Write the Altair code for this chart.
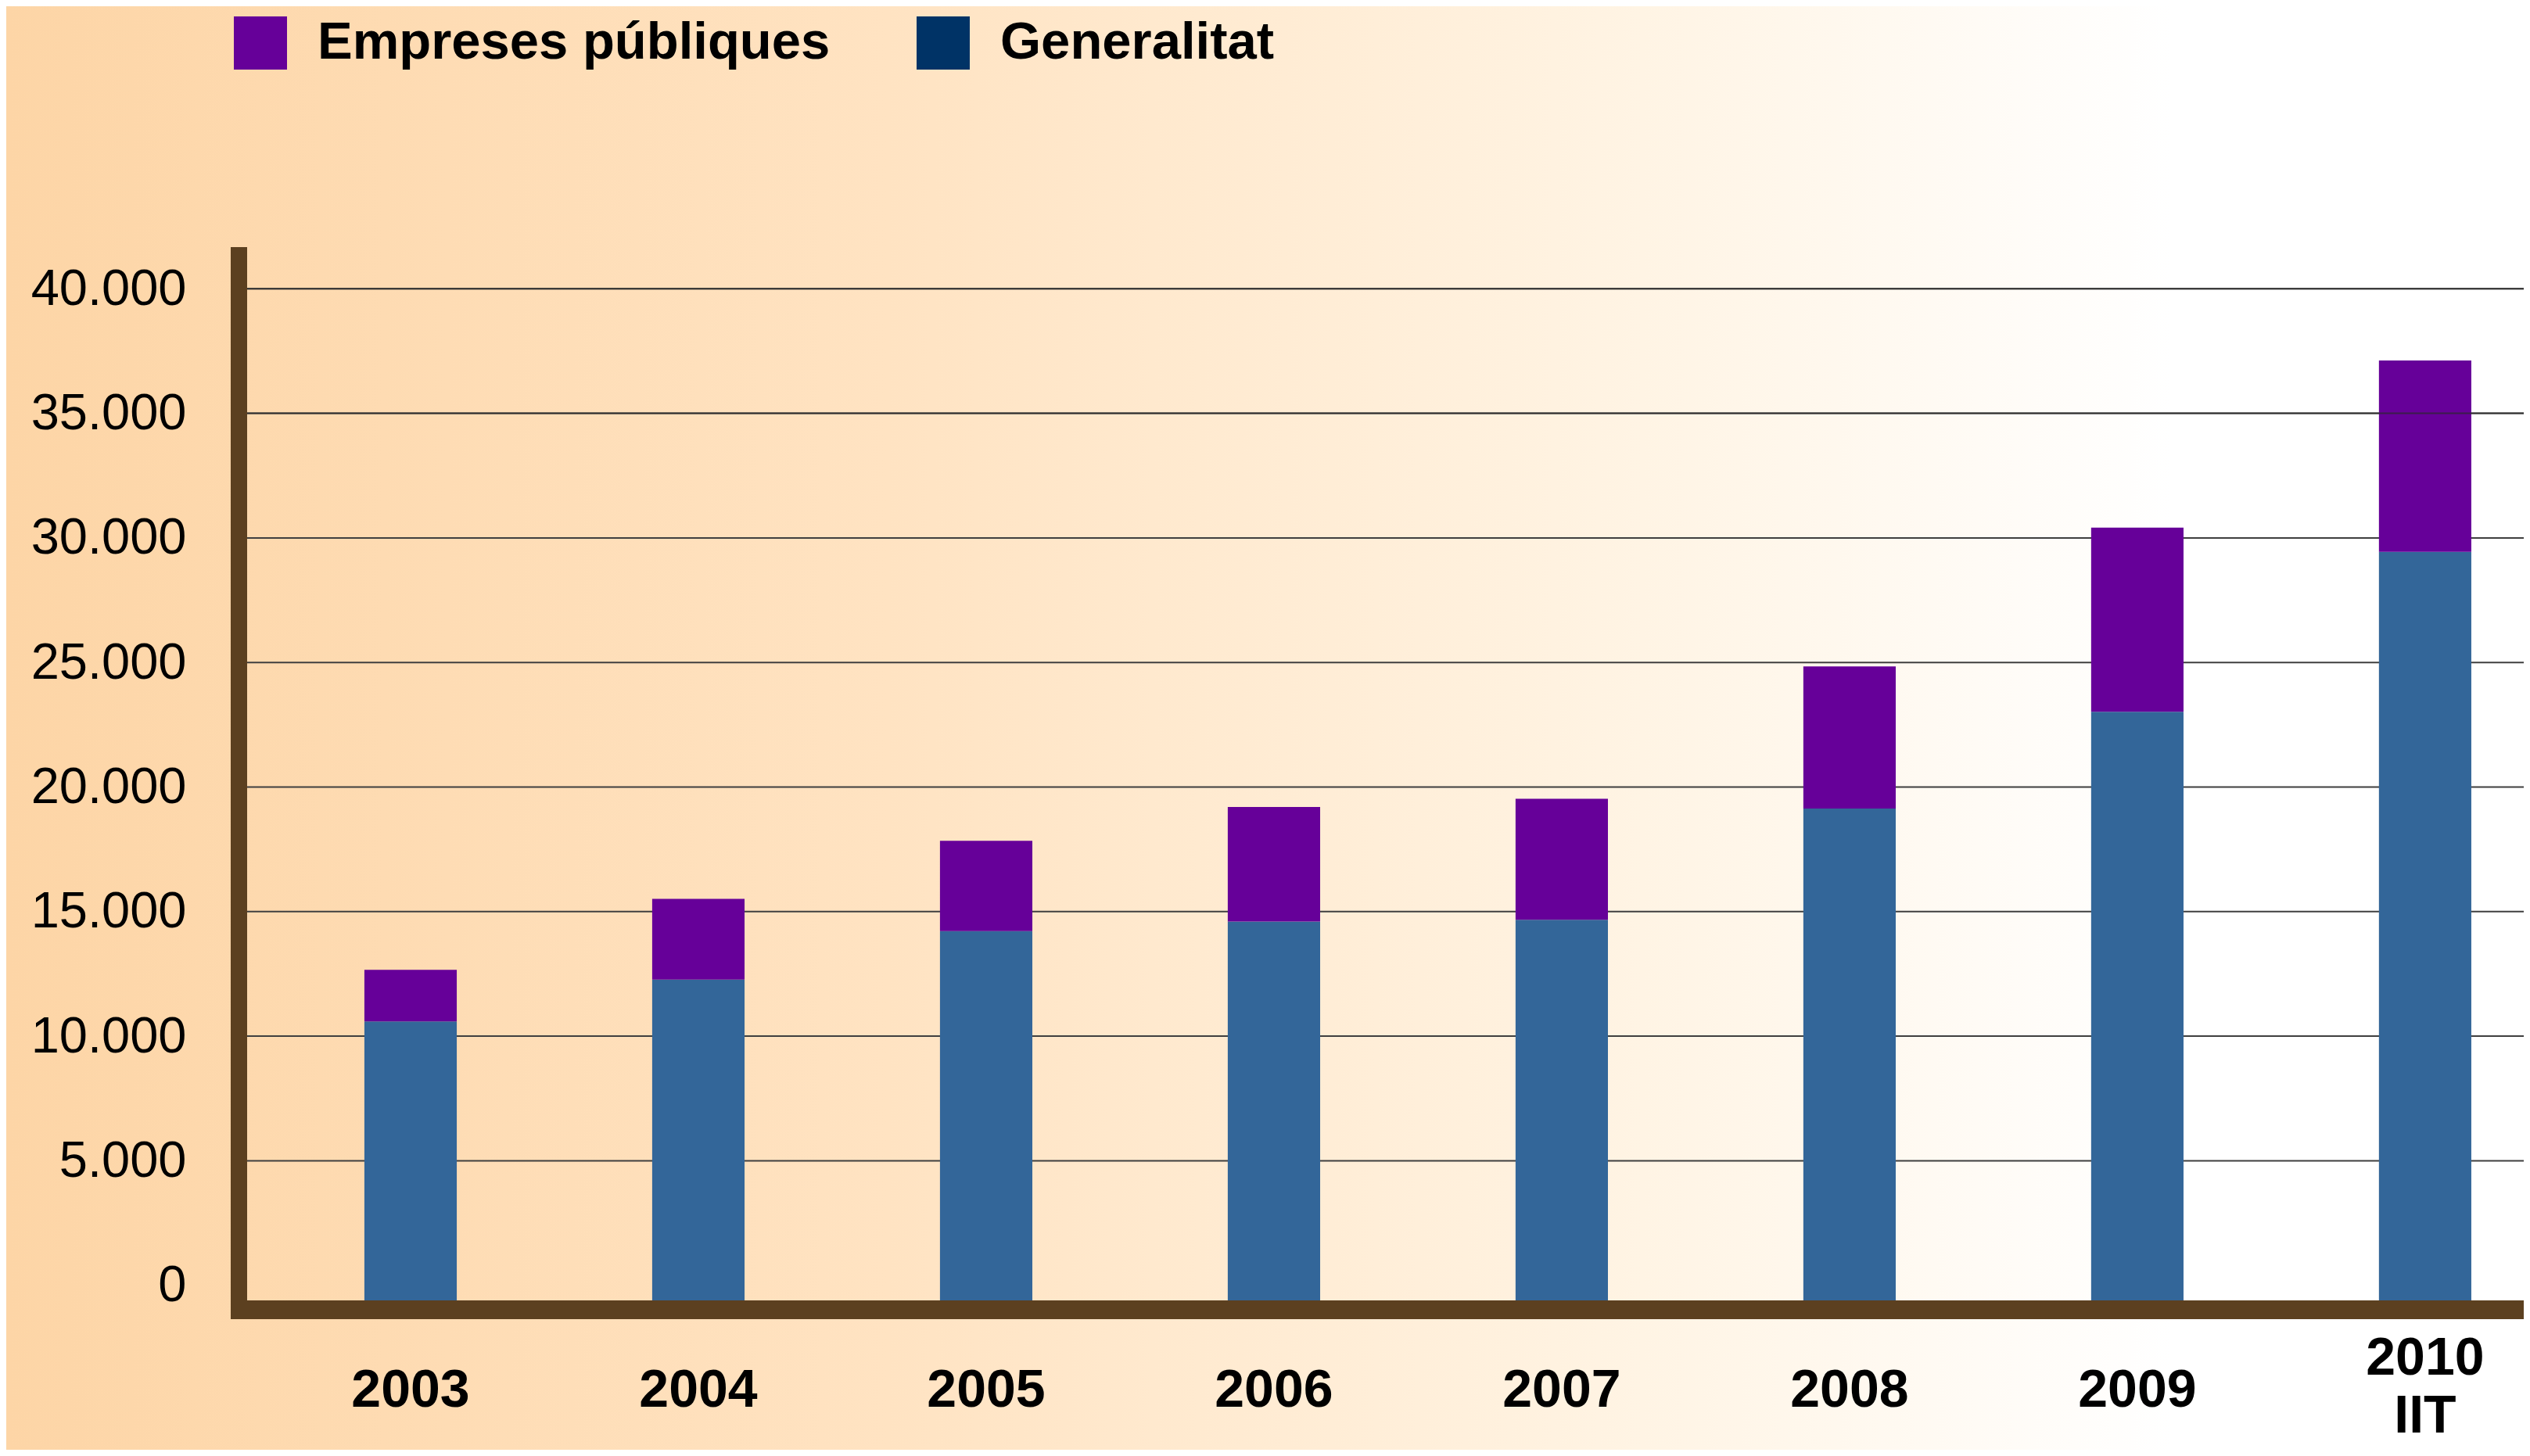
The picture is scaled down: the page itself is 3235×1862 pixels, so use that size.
import altair as alt
import pandas as pd

# ---- data ----
years = ["2003", "2004", "2005", "2006", "2007", "2008", "2009", "2010\nIIT"]
generalitat = [10590, 12270, 14220, 14600, 14670, 19140, 23020, 29440]
empreses = [2070, 3240, 3620, 4600, 4860, 5700, 7390, 7680]
series = ["Empreses públiques", "Generalitat"]
bar_colors = ["#660099", "#336699"]
legend_colors = ["#660099", "#003366"]
tick_values = [0, 5000, 10000, 15000, 20000, 25000, 30000, 35000, 40000]
grid_values = tick_values[1:]

Y_MIN, Y_MAX = -606, 41673
BROWN = "#5c4020"
W, H = 2911, 1347
PAD_L, PAD_T, PAD_B = 308, 308, 191

df = pd.DataFrame({"year": years, "generalitat": generalitat, "empreses": empreses})
grid_df = pd.DataFrame({"v": grid_values})
legend_df = pd.DataFrame({"series": series})
one = alt.Data(values=[{"k": 1}])

yscale = alt.Scale(domain=[Y_MIN, Y_MAX], nice=False, zero=False)
y_axis = alt.Axis(
    title=None, values=tick_values, grid=False, domain=False, ticks=False,
    labelExpr="replace(format(datum.value, ','), ',', '.')",
    labelFont="Liberation Sans", labelFontSize=65, labelColor="#000000",
    labelPadding=78, labelBaseline="middle", labelLimit=500, zindex=2,
)
xscale = alt.Scale(domain=years, paddingInner=0.679, paddingOuter=0.2948, align=0.691)
x_axis = alt.Axis(
    title=None, domain=False, ticks=False, labelAngle=0,
    labelExpr="split(datum.label, '\\n')",
    labelFont="Liberation Sans", labelFontWeight="bold", labelFontSize=68,
    labelColor="#000000", labelLineHeight=74, labelBaseline="top", zindex=2,
    labelLimit=500,
    labelPadding={"condition": {"test": "indexof(datum.value, 'IIT') >= 0", "value": 40}, "value": 81},
)

background = alt.Chart(one).mark_rect(
    fill=alt.Gradient(
        gradient="linear",
        stops=[
            alt.GradientStop(offset=0, color="#fdd5a6"),
            alt.GradientStop(offset=0.35, color="#ffe3c2"),
            alt.GradientStop(offset=0.65, color="#fff4e4"),
            alt.GradientStop(offset=0.86, color="#ffffff"),
            alt.GradientStop(offset=1, color="#ffffff"),
        ],
        x1=0, x2=1, y1=0, y2=0,
    )
).encode(x=alt.value(-PAD_L), x2=alt.value(W), y=alt.value(-PAD_T), y2=alt.value(H + PAD_B))

grid = alt.Chart(grid_df).mark_rule(color="#3f3f3f", strokeWidth=2).encode(
    y=alt.Y("v:Q", scale=yscale, axis=y_axis), x=alt.value(0), x2=alt.value(W)
)
grid_top = alt.Chart(grid_df).transform_filter("datum.v >= 35000").mark_rule(
    color="#2a2a2a", strokeWidth=2, opacity=0.7
).encode(y=alt.Y("v:Q", scale=yscale, axis=y_axis), x=alt.value(0), x2=alt.value(W))

blue = alt.Chart(df).transform_calculate(
    base=str(Y_MIN)
).mark_bar(color=bar_colors[1]).encode(
    x=alt.X("year:N", sort=years, scale=xscale, axis=x_axis),
    y=alt.Y("generalitat:Q", scale=yscale, axis=y_axis),
    y2="base:Q",
)
purple = alt.Chart(df).transform_calculate(
    total="datum.generalitat + datum.empreses"
).mark_bar(color=bar_colors[0]).encode(
    x=alt.X("year:N", sort=years, scale=xscale, axis=x_axis),
    y=alt.Y("total:Q", scale=yscale, axis=y_axis),
    y2="generalitat:Q",
)

vbar = alt.Chart(one).mark_rule(color=BROWN, strokeWidth=21).encode(
    x=alt.value(-10.5), y=alt.value(0), y2=alt.value(H + 24)
)
hbar = alt.Chart(one).mark_rule(color=BROWN, strokeWidth=24).encode(
    x=alt.value(-21), x2=alt.value(W), y=alt.value(H + 12)
)

legend_layer = alt.Chart(legend_df).mark_point(shape="square", filled=True, opacity=0).encode(
    color=alt.Color(
        "series:N",
        scale=alt.Scale(domain=series, range=legend_colors),
        legend=alt.Legend(
            title=None, orient="none", legendX=-17, legendY=-295, direction="horizontal",
            symbolType="square", symbolSize=4624, symbolOpacity=1, symbolStrokeWidth=0,
            labelFont="Liberation Sans", labelFontWeight="bold", labelFontSize=67,
            labelColor="#000000", labelOffset=39, columnPadding=110, padding=0,
            labelLimit=1000,
        ),
    )
)

chart = alt.layer(
    background, grid, blue, purple, grid_top, vbar, hbar, legend_layer
).properties(
    width=W, height=H,
    autosize=alt.AutoSizeParams(type="none"),
    padding={"left": PAD_L, "top": PAD_T, "right": 0, "bottom": PAD_B},
).configure_view(stroke=None)

chart.save("out.html", embed_options={"renderer": "svg", "actions": False})
